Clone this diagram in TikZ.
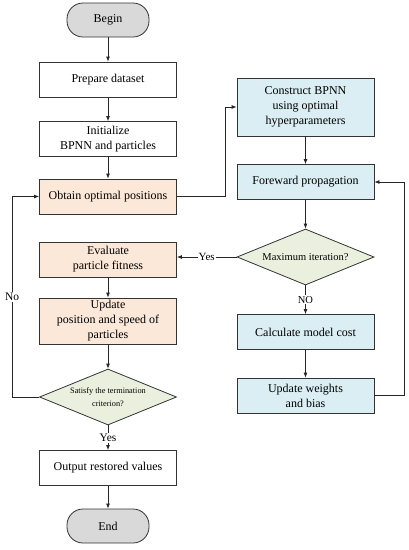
\documentclass[tikz,border=0pt]{standalone}
\usepackage{fontspec}
\setmainfont{Liberation Serif}
\usetikzlibrary{arrows.meta,shapes.geometric}
\definecolor{psofill}{HTML}{FBE8D9}
\definecolor{bpfill}{HTML}{DAEEF3}
\definecolor{testfill}{HTML}{EBF0DE}
\definecolor{termfill}{HTML}{D9D9D9}

\begin{document}
\begin{tikzpicture}[x=1pt, y=-1pt,
  every node/.style={font=\fontsize{12}{15}\selectfont},
  box/.style={rectangle, draw=black!80, line width=0.8pt, minimum width=137pt, minimum height=35pt, align=center, inner sep=1pt},
  term/.style={box, rounded corners=16pt, fill=termfill, minimum width=82pt, minimum height=34pt},
  pso/.style={box, fill=psofill},
  bp/.style={box, fill=bpfill},
  test/.style={diamond, draw=black!80, line width=0.8pt, fill=testfill, aspect=2.45, minimum width=137pt, minimum height=56pt, inner sep=0pt, align=center},
  flow/.style={-{Latex[length=5pt,width=4pt]}, line width=0.8pt, draw=black!85},
  lbl/.style={fill=white, inner sep=1pt, font=\fontsize{11.5}{13}\selectfont}
]
\useasboundingbox (0,0) rectangle (409,550);
% PSO column
\node[term] (start) at (108,20) {Begin};
\node[box] (prep) at (108,79.5) {Prepare dataset};
\node[box] (init) at (108,139) {Initialize\\BPNN and particles};
\node[pso] (obtain) at (108,196.5) {Obtain optimal positions};
\node[pso] (eval) at (108,259.5) {Evaluate\\particle fitness};
\node[pso, minimum height=46pt] (update) at (108,321) {Update\\position and speed of\\particles};
\node[test, font=\fontsize{8.3}{12.5}\selectfont] (satisfy) at (108,397) {Satisfy the termination\\criterion?};
\node[box] (output) at (108,468) {Output restored values};
\node[term] (stop) at (108,526) {End};
% BPNN column
\node[bp, minimum height=58pt] (construct) at (305.5,107) {Construct BPNN\\using optimal\\hyperparameters};
\node[bp] (forward) at (305.5,182) {Foreward propagation};
\node[test, font=\fontsize{10.5}{12}\selectfont] (maxit) at (305.5,257) {Maximum iteration?};
\node[bp] (cost) at (305.5,332) {Calculate model cost};
\node[bp] (weights) at (305.5,395.5) {Update weights\\and bias};
% Vertical flow
\draw[flow] (start) -- (prep);
\draw[flow] (prep) -- (init);
\draw[flow] (init) -- (obtain);
\draw[flow] (eval) -- (update);
\draw[flow] (update) -- (satisfy);
\draw[flow] (satisfy) -- node[lbl] {Yes} (output);
\draw[flow] (output) -- (stop);
\draw[flow] (construct) -- (forward);
\draw[flow] (forward) -- (maxit);
\draw[flow] (maxit) -- node[lbl, font=\fontsize{10.5}{12}\selectfont] {NO} (cost);
\draw[flow] (cost) -- (weights);
% Loops and cross links
\draw[flow] (obtain.east) -- ++(48,0) |- (construct.west);
\draw[flow] (maxit.west) -- node[lbl, font=\fontsize{11}{12}\selectfont] {Yes} (maxit.west -| eval.east);
\draw[flow] (satisfy.west) -- ++(-27,0) |- node[lbl, pos=0.25] {No} (obtain.west);
\draw[flow] (weights.east) -- ++(30,0) |- (forward.east);
\end{tikzpicture}
\end{document}
